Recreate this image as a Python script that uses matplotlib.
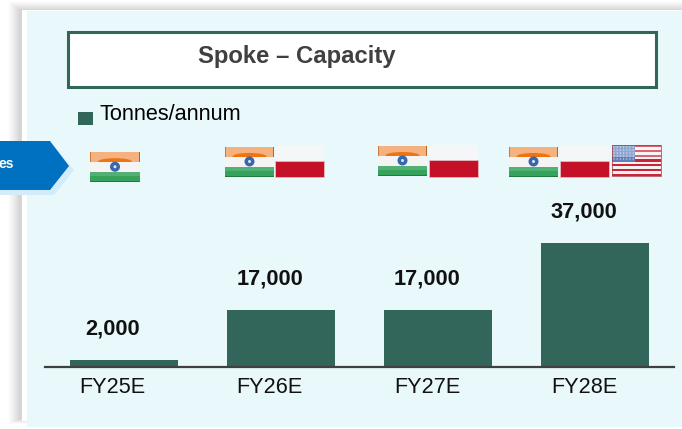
import numpy as np
import matplotlib
matplotlib.use('Agg')
from matplotlib import pyplot as plt
from matplotlib.patches import Rectangle, Polygon, Circle, Ellipse
from matplotlib.transforms import ScaledTranslation

plt.rcParams['font.family'] = ['Liberation Sans', 'DejaVu Sans']

years = ['FY25E', 'FY26E', 'FY27E', 'FY28E']
capacity = [2000, 17000, 17000, 37000]
value_labels = ['2,000', '17,000', '17,000', '37,000']
series_name = 'Tonnes/annum'
title = 'Spoke \u2013 Capacity'

W, H = 682, 429
GREEN = '#33665a'
PANEL = '#e9f8fa'

fig = plt.figure(figsize=(W / 100, H / 100), dpi=100, facecolor='white')

# pixel coordinates for everything around the chart
bg = fig.add_axes([0, 0, 1, 1])
bg.set_xlim(0, W)
bg.set_ylim(H, 0)
bg.axis('off')


def rect(x0, y0, x1, y1, color, **kw):
    bg.add_patch(Rectangle((x0, y0), x1 - x0, y1 - y0, facecolor=color,
                           edgecolor=kw.pop('edge', 'none'), **kw))


def gloss(x0, y0, x1, y1):
    # shiny top of the flag icons
    rect(x0, y0, x1, y0 + (y1 - y0) * 0.38, 'white', alpha=0.3)


def india(x0, y0, x1, y1):
    h = (y1 - y0) / 3
    rect(x0, y0, x1, y0 + h, '#f2924a')
    rect(x0, y0 + h, x1, y0 + 2 * h, '#f4f4f4')
    rect(x0, y0 + 2 * h, x1, y1, '#35a35c')
    gloss(x0, y0, x1, y1)
    cx = (x0 + x1) / 2
    bg.add_patch(Ellipse((cx, y0 + h), 34, 7, facecolor='#ee7412', edgecolor='none'))
    rect(x0, y0 + h, x1, y0 + 2 * h, '#f4f4f4')
    bg.add_patch(Circle((cx, y0 + 1.5 * h), 5, facecolor='#3a66ad', edgecolor='none'))
    bg.add_patch(Circle((cx, y0 + 1.5 * h), 1.5, facecolor='#dfe6f2', edgecolor='none'))
    rect(x0, y0 + 2 * h, x1, y0 + 2.4 * h, 'white', alpha=0.15)
    rect(x0, y1 - 1, x1, y1, '#1f7a3c')
    rect(x0, y0, x0 + 0.6, y0 + h, '#c97a3a')
    rect(x1 - 0.6, y0, x1, y0 + h, '#b8651f')


def poland(x0, y0, x1, y1):
    mid = y0 + (y1 - y0) * 0.47
    rect(x0, y0, x1, mid, '#f5f6f7')
    rect(x0, mid, x1, y1, '#c41127', edge='#e7b9c0', linewidth=0.6)


def usa(x0, y0, x1, y1):
    h = (y1 - y0) / 13
    for i in range(13):
        rect(x0, y0 + i * h, x1, y0 + (i + 1) * h, '#c8253a' if i % 2 == 0 else '#f6f0f0')
    cy = y0 + 7 * h
    cx = x0 + (x1 - x0) * 0.47
    rect(x0, y0, cx, cy, '#5f80bd')
    for yy in np.arange(y0 + 2, cy, 3):
        for xx in np.arange(x0 + 2, cx, 3.2):
            bg.add_patch(Circle((xx, yy), 0.7, facecolor='#c5d3ea', edgecolor='none'))
    gloss(x0, y0, x1, y1)
    rect(x0, y0, x1, y1, 'none', edge='#a8323f', linewidth=0.5)


# soft shadow, white strip and panel
for i in range(12):
    rect(8 + i, 1 + i * 0.75, W + 5, 424 - i * 0.4, '#707070', alpha=0.012 + 0.002 * i)
rect(22, 10, W + 5, 421, 'white')
rect(27, 11, W + 5, 427, PANEL)

# title box
rect(68, 31.5, 656, 87, 'white', edge=GREEN, linewidth=2.2)
bg.text(297, 56, title, ha='center', va='center', fontsize=17.2,
        fontweight='bold', color='#404040')

# legend
rect(78, 112, 93, 125, GREEN)
bg.text(99, 114, series_name, ha='left', va='center', fontsize=15.6, color='black')

# blue arrow on the left edge
bg.add_patch(Polygon([(-2, 146), (54, 146), (74, 170), (54, 195), (-2, 195)],
                     facecolor='#d3ecfa', edgecolor='none'))
bg.add_patch(Polygon([(-2, 141), (50, 141), (69, 166), (50, 190), (-2, 190)],
                     facecolor='#0070c0', edgecolor='none'))
bg.text(14, 164.5, 'es', ha='right', va='center', fontsize=10,
        fontweight='bold', color='white')

# flags
india(90, 151.5, 140, 182)
india(225, 146.5, 274, 176.5)
poland(275, 146, 324, 177)
india(378, 145.5, 427, 175.5)
poland(429, 145, 478, 177)
india(509, 146.5, 558, 176.5)
poland(560, 146, 608.5, 177)
usa(612, 145, 661, 176)

# bar chart
ax = fig.add_axes([45 / W, 1 - 366.5 / H, 629 / W, 200 / H])
ax.patch.set_alpha(0)
x = np.arange(len(years))
ax.bar(x, capacity, width=0.688, color=GREEN, linewidth=0)
ax.set_xlim(-0.5, 3.5)
ax.set_ylim(0, 60000)
ax.set_yticks([])
ax.set_xticks(x)
ax.set_xticklabels(years, fontsize=15.6, color='#111111')
ax.tick_params(axis='x', length=0, pad=7.5)
# the labels sit a bit left of the bar centres in the original
shift = ScaledTranslation(-11 / 100, 0, fig.dpi_scale_trans)
for lab in ax.get_xticklabels():
    lab.set_transform(lab.get_transform() + shift)
for s in ['top', 'left', 'right']:
    ax.spines[s].set_visible(False)
ax.spines['bottom'].set_linewidth(1.6)
ax.spines['bottom'].set_color('#404040')

for xi, v, lab in zip(x, capacity, value_labels):
    ax.annotate(lab, (xi, v), xytext=(-7.9, 15), textcoords='offset points',
                ha='center', va='bottom', fontsize=15.7, fontweight='bold', color='#111111')

fig.savefig('out.png', dpi=100)
